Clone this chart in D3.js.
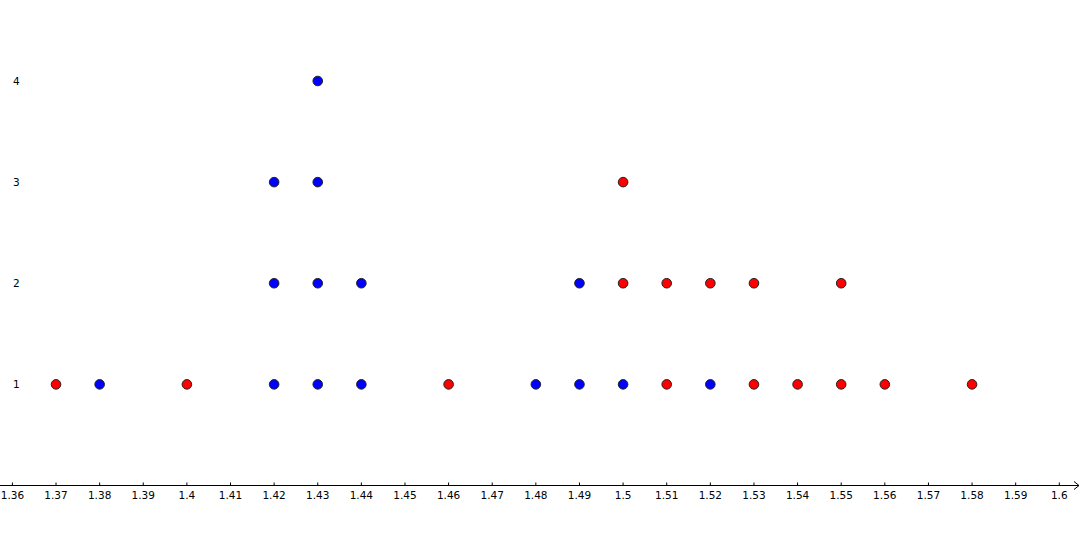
<!DOCTYPE html>
<html><head><meta charset="utf-8">
<script src="https://cdn.jsdelivr.net/npm/d3@7"></script>
<style>body{margin:0;background:#fff}svg{display:block}</style>
</head><body><svg id="c" width="1082" height="534"></svg>
<script>
const xTicks = d3.range(0, 25).map(i => +(1.36 + i * 0.01).toFixed(2));
const yTicks = [1, 2, 3, 4];
const redX = [1.37, 1.40, 1.46, 1.50, 1.50, 1.51, 1.51, 1.52, 1.53, 1.53, 1.54, 1.55, 1.55, 1.56, 1.58];
const redY = [1, 1, 1, 2, 3, 1, 2, 2, 1, 2, 1, 1, 2, 1, 1];
const blueX = [1.38, 1.42, 1.42, 1.42, 1.43, 1.43, 1.43, 1.43, 1.44, 1.44, 1.48, 1.49, 1.49, 1.50, 1.52];
const blueY = [1, 1, 2, 3, 1, 2, 3, 4, 1, 2, 1, 1, 2, 1, 1];

const svg = d3.select("#c");
const x = d3.scaleLinear().domain([1.36, 1.60]).range([12.4, 1059.3]);
const y = d3.scaleLinear().domain([0, 4]).range([485.5, 81]);
const font = "'DejaVu Sans', sans-serif";

// x axis
const ax = svg.append("g").attr("transform", `translate(0,${y(0)})`);
ax.append("line").attr("x1", 0).attr("x2", 1079).attr("stroke", "#000").attr("stroke-width", 1);
ax.append("path").attr("d", "M1074,-4 L1079,0 L1074,4").attr("fill", "none").attr("stroke", "#000");
ax.selectAll("line.t").data(xTicks).join("line").attr("class", "t")
  .attr("x1", d => x(d)).attr("x2", d => x(d)).attr("y1", -3).attr("y2", 0)
  .attr("stroke", "#000");
ax.selectAll("text").data(xTicks).join("text")
  .attr("x", d => x(d)).attr("y", 13)
  .attr("text-anchor", "middle").attr("font-family", font).attr("font-size", 10.5)
  .attr("fill", "#000").text(d => String(d));

// y labels
svg.selectAll("text.y").data(yTicks).join("text").attr("class", "y")
  .attr("x", 13).attr("y", d => y(d) + 4)
  .attr("font-family", font).attr("font-size", 10.5).attr("fill", "#000").text(d => d);

function dots(xs, ys, color) {
  svg.append("g").selectAll("circle").data(xs.map((v, i) => [v, ys[i]])).join("circle")
    .attr("cx", d => x(d[0])).attr("cy", d => y(d[1])).attr("r", 4.8)
    .attr("fill", color).attr("stroke", "#222").attr("stroke-width", 1);
}
dots(redX, redY, "#ff0000");
dots(blueX, blueY, "#0000ff");
</script></body></html>
